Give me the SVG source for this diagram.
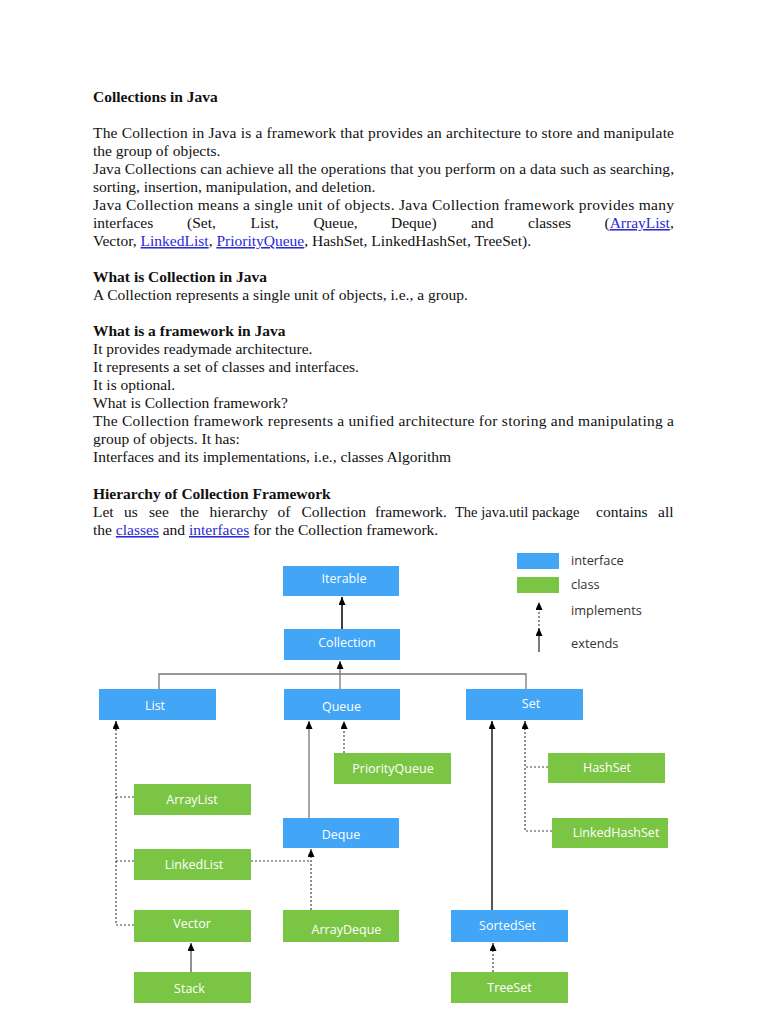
<svg xmlns="http://www.w3.org/2000/svg" width="768" height="1024" viewBox="0 0 768 1024">
<style>
.body{font-family:"Liberation Serif","Times New Roman",serif;font-size:15.5px;fill:#111;}
.b{font-weight:bold;}
.lnk{fill:#2a2ad6;text-decoration:underline;}
.iface{fill:#42A5F5;}
.cls{fill:#7BC545;}
.lbl{font-family:"Open Sans","DejaVu Sans",sans-serif;font-size:12.5px;fill:#fff;text-anchor:middle;}
.leg{font-family:"Open Sans","DejaVu Sans",sans-serif;font-size:12.8px;fill:#333;}
.solid{stroke:#000;stroke-width:1.5;fill:none;}
.gray{stroke:#777;stroke-width:1.3;fill:none;}
.dark{stroke:#555;stroke-width:2;fill:none;}
.dot{stroke:#444;stroke-width:1.2;stroke-dasharray:2 2;fill:none;}
</style>
<defs>
<marker id="arr" markerUnits="userSpaceOnUse" markerWidth="9" markerHeight="8" refX="8" refY="3.5" orient="auto">
<path d="M0,0 L8,3.5 L0,7 z" fill="#000"/>
</marker>
</defs>
<rect width="768" height="1024" fill="#fff"/>
<g id="text">
<text class="body b" x="93" y="102">Collections in Java</text>
<text class="body" x="93" y="138" textLength="581" lengthAdjust="spacing">The Collection in Java is a framework that provides an architecture to store and manipulate</text>
<text class="body" x="93" y="156">the group of objects.</text>
<text class="body" x="93" y="174" textLength="581" lengthAdjust="spacing">Java Collections can achieve all the operations that you perform on a data such as searching,</text>
<text class="body" x="93" y="192">sorting, insertion, manipulation, and deletion.</text>
<text class="body" x="93" y="210" textLength="581" lengthAdjust="spacing">Java Collection means a single unit of objects. Java Collection framework provides many</text>
<text class="body" y="228"><tspan x="93">interfaces</tspan><tspan x="187">(Set,</tspan><tspan x="250.6">List,</tspan><tspan x="313.4">Queue,</tspan><tspan x="391">Deque)</tspan><tspan x="471">and</tspan><tspan x="528">classes</tspan><tspan x="604.5">(</tspan><tspan class="lnk">ArrayList</tspan><tspan>,</tspan></text>
<text class="body" x="93" y="246">Vector, <tspan class="lnk">LinkedList</tspan>, <tspan class="lnk">PriorityQueue</tspan>, HashSet, LinkedHashSet, TreeSet).</text>
<text class="body b" x="93" y="282">What is Collection in Java</text>
<text class="body" x="93" y="300">A Collection represents a single unit of objects, i.e., a group.</text>
<text class="body b" x="93" y="336">What is a framework in Java</text>
<text class="body" x="93" y="354">It provides readymade architecture.</text>
<text class="body" x="93" y="372">It represents a set of classes and interfaces.</text>
<text class="body" x="93" y="390">It is optional.</text>
<text class="body" x="93" y="408">What is Collection framework?</text>
<text class="body" x="93" y="426" textLength="581" lengthAdjust="spacing">The Collection framework represents a unified architecture for storing and manipulating a</text>
<text class="body" x="93" y="444">group of objects. It has:</text>
<text class="body" x="93" y="462">Interfaces and its implementations, i.e., classes Algorithm</text>
<text class="body b" x="93" y="499">Hierarchy of Collection Framework</text>
<text class="body" y="517"><tspan x="93">Let</tspan><tspan x="124">us</tspan><tspan x="149">see</tspan><tspan x="180">the</tspan><tspan x="209.5">hierarchy</tspan><tspan x="277.5">of</tspan><tspan x="301.5">Collection</tspan><tspan x="375">framework.</tspan><tspan x="455" style="font-size:14.5px">The java.util package</tspan><tspan x="596">contains</tspan><tspan x="658">all</tspan></text>
<text class="body" x="93" y="535">the <tspan class="lnk">classes</tspan> and <tspan class="lnk">interfaces</tspan> for the Collection framework.</text>
</g>
<g id="legend">
<rect class="iface" x="517" y="553" width="42" height="16"/>
<rect class="cls" x="517" y="577" width="42" height="16"/>
<line class="dot" x1="539" y1="626" x2="539" y2="602" marker-end="url(#arr)"/>
<line class="gray" x1="539" y1="652" x2="539" y2="628" marker-end="url(#arr)" style="stroke:#333"/>
<text class="leg" x="571" y="565">interface</text>
<text class="leg" x="571" y="589">class</text>
<text class="leg" x="571" y="615">implements</text>
<text class="leg" x="571" y="648">extends</text>
</g>
<g id="connectors">
<line class="solid" x1="342" y1="629" x2="342" y2="597" marker-end="url(#arr)"/>
<polyline class="gray" points="159,689 159,674 526,674 526,689"/>
<line class="gray" x1="340" y1="689" x2="340" y2="661" marker-end="url(#arr)"/>
<polyline class="dot" points="134,797 116,797"/>
<polyline class="dot" points="134,861 116,861"/>
<polyline class="dot" points="134,925 116,925 116,721"/>
<line class="dot" x1="116" y1="730" x2="116" y2="721" marker-end="url(#arr)"/>
<line class="gray" x1="309" y1="818" x2="309" y2="721" marker-end="url(#arr)"/>
<line class="dot" x1="344" y1="753" x2="344" y2="721" marker-end="url(#arr)"/>
<polyline class="dot" points="251,861 311,861"/>
<line class="dot" x1="311" y1="910" x2="311" y2="849" marker-end="url(#arr)"/>
<line class="gray" x1="191" y1="972" x2="191" y2="943" marker-end="url(#arr)" style="stroke:#555"/>
<line class="dark" x1="492" y1="910" x2="492" y2="721" marker-end="url(#arr)"/>
<polyline class="dot" points="548,767 525,767"/>
<polyline class="dot" points="552,831 525,831 525,721"/>
<line class="dot" x1="525" y1="730" x2="525" y2="721" marker-end="url(#arr)"/>
<line class="dot" x1="493" y1="972" x2="493" y2="943" marker-end="url(#arr)"/>
</g>
<g id="Iterable"><rect class="iface" x="283" y="566" width="116" height="30"/><text class="lbl" x="344" y="583">Iterable</text></g>
<g id="Collection"><rect class="iface" x="284" y="629" width="116" height="31"/><text class="lbl" x="347" y="647">Collection</text></g>
<g id="List"><rect class="iface" x="99" y="689" width="117" height="31"/><text class="lbl" x="155" y="710">List</text></g>
<g id="Queue"><rect class="iface" x="284" y="689" width="116" height="31"/><text class="lbl" x="341.5" y="711">Queue</text></g>
<g id="Set"><rect class="iface" x="466" y="689" width="117" height="31"/><text class="lbl" x="531" y="708">Set</text></g>
<g id="PriorityQueue"><rect class="cls" x="334" y="753" width="117" height="31"/><text class="lbl" x="393" y="773">PriorityQueue</text></g>
<g id="ArrayList"><rect class="cls" x="134" y="784" width="117" height="31"/><text class="lbl" x="192" y="804">ArrayList</text></g>
<g id="LinkedList"><rect class="cls" x="134" y="849" width="117" height="31"/><text class="lbl" x="194" y="869">LinkedList</text></g>
<g id="Vector"><rect class="cls" x="134" y="910" width="117" height="32"/><text class="lbl" x="192" y="928">Vector</text></g>
<g id="Stack"><rect class="cls" x="134" y="972" width="117" height="31"/><text class="lbl" x="189.5" y="993">Stack</text></g>
<g id="Deque"><rect class="iface" x="283" y="818" width="116" height="30"/><text class="lbl" x="341" y="839">Deque</text></g>
<g id="ArrayDeque"><rect class="cls" x="283" y="910" width="116" height="32"/><text class="lbl" x="346.5" y="934">ArrayDeque</text></g>
<g id="HashSet"><rect class="cls" x="548" y="753" width="117" height="30"/><text class="lbl" x="607" y="772">HashSet</text></g>
<g id="LinkedHashSet"><rect class="cls" x="552" y="818" width="116" height="30"/><text class="lbl" x="616" y="837">LinkedHashSet</text></g>
<g id="SortedSet"><rect class="iface" x="451" y="910" width="117" height="32"/><text class="lbl" x="507.5" y="930">SortedSet</text></g>
<g id="TreeSet"><rect class="cls" x="451" y="972" width="117" height="31"/><text class="lbl" x="509.5" y="992">TreeSet</text></g>
</svg>
